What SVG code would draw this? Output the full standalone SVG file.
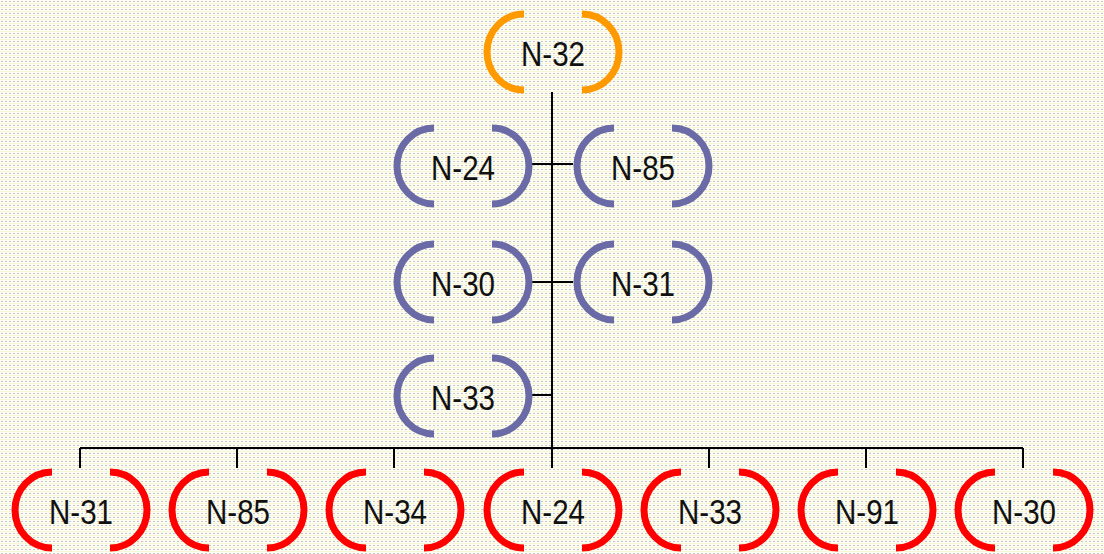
<svg xmlns="http://www.w3.org/2000/svg" width="1104" height="554" viewBox="0 0 1104 554">
  <defs>
    <pattern id="dots" width="4" height="4" patternUnits="userSpaceOnUse">
      <rect width="4" height="4" fill="#fdfdf3"/>
      <rect x="0" y="3" width="4" height="1" fill="#f7f7d8"/>
      <rect x="1" y="1" width="2" height="1" fill="#c4c4cc"/>
    </pattern>
    <style>
      .arc { fill: none; stroke-width: 7; stroke-linecap: butt; }
      .root { stroke: #ff9900; }
      .mid { stroke: #6a6aa6; }
      .leaf { stroke: #ff0000; }
      .lbl { font-family: "Liberation Sans", Arial, sans-serif; font-size: 35px; fill: #111; stroke: none; text-anchor: middle; }
      .wire { fill: none; stroke: #000; stroke-width: 2; }
    </style>
    <!-- bracket pair centred on the origin; colour comes from the node group -->
    <g id="brackets">
      <path class="arc" d="M -29,-38 A 37 38 0 0 0 -29,38"/>
      <path class="arc" d="M 29,-38 A 37 38 0 0 1 29,38"/>
    </g>
  </defs>

  <rect width="1104" height="554" fill="url(#dots)"/>

  <!-- connectors -->
  <g id="connectors">
    <path class="wire" d="M 552,92 V 468"/>
    <path class="wire" d="M 532,164 H 573"/>
    <path class="wire" d="M 532,282 H 573"/>
    <path class="wire" d="M 532,395 H 552"/>
    <path class="wire" d="M 80,448 H 1023"/>
    <path class="wire" d="M 80,448 V 468 M 237,448 V 468 M 394,448 V 468 M 709,448 V 468 M 866,448 V 468 M 1023,448 V 468"/>
  </g>

  <g id="n32" class="root" transform="translate(553,52)">
    <use href="#brackets"/>
    <text class="lbl" x="0" y="14" textLength="64" lengthAdjust="spacingAndGlyphs">N-32</text>
  </g>

  <g id="n24a" class="mid" transform="translate(463,166)">
    <use href="#brackets"/>
    <text class="lbl" x="0" y="14" textLength="64" lengthAdjust="spacingAndGlyphs">N-24</text>
  </g>
  <g id="n85a" class="mid" transform="translate(643,166)">
    <use href="#brackets"/>
    <text class="lbl" x="0" y="14" textLength="64" lengthAdjust="spacingAndGlyphs">N-85</text>
  </g>
  <g id="n30a" class="mid" transform="translate(463,282)">
    <use href="#brackets"/>
    <text class="lbl" x="0" y="14" textLength="64" lengthAdjust="spacingAndGlyphs">N-30</text>
  </g>
  <g id="n31a" class="mid" transform="translate(643,282)">
    <use href="#brackets"/>
    <text class="lbl" x="0" y="14" textLength="64" lengthAdjust="spacingAndGlyphs">N-31</text>
  </g>
  <g id="n33a" class="mid" transform="translate(463,396)">
    <use href="#brackets"/>
    <text class="lbl" x="0" y="14" textLength="64" lengthAdjust="spacingAndGlyphs">N-33</text>
  </g>

  <g id="n31b" class="leaf" transform="translate(81,510)">
    <use href="#brackets"/>
    <text class="lbl" x="0" y="14" textLength="64" lengthAdjust="spacingAndGlyphs">N-31</text>
  </g>
  <g id="n85b" class="leaf" transform="translate(238,510)">
    <use href="#brackets"/>
    <text class="lbl" x="0" y="14" textLength="64" lengthAdjust="spacingAndGlyphs">N-85</text>
  </g>
  <g id="n34b" class="leaf" transform="translate(395,510)">
    <use href="#brackets"/>
    <text class="lbl" x="0" y="14" textLength="64" lengthAdjust="spacingAndGlyphs">N-34</text>
  </g>
  <g id="n24b" class="leaf" transform="translate(553,510)">
    <use href="#brackets"/>
    <text class="lbl" x="0" y="14" textLength="64" lengthAdjust="spacingAndGlyphs">N-24</text>
  </g>
  <g id="n33b" class="leaf" transform="translate(710,510)">
    <use href="#brackets"/>
    <text class="lbl" x="0" y="14" textLength="64" lengthAdjust="spacingAndGlyphs">N-33</text>
  </g>
  <g id="n91b" class="leaf" transform="translate(867,510)">
    <use href="#brackets"/>
    <text class="lbl" x="0" y="14" textLength="64" lengthAdjust="spacingAndGlyphs">N-91</text>
  </g>
  <g id="n30b" class="leaf" transform="translate(1024,510)">
    <use href="#brackets"/>
    <text class="lbl" x="0" y="14" textLength="64" lengthAdjust="spacingAndGlyphs">N-30</text>
  </g>
</svg>
